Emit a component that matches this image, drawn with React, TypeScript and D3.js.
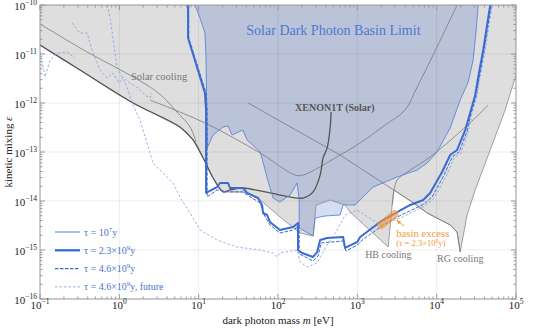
import React from "react";
import * as d3 from "d3";

type Pt = [number, number];

// axis decades
const massDecades = [-1, 0, 1, 2, 3, 4, 5];
const mixingDecades = [-16, -15, -14, -13, -12, -11, -10];

// union of existing bounds (lower edge, left -> right)
const grayRegion: Pt[] = [
  [0.1, 1.53e-11], [0.319, 4.72e-12], [1.49, 1e-12], [5.8, 3.24e-13], [8.5, 1.76e-13],
  [11.4, 7.54e-14], [15.2, 2.95e-14], [20.3, 1.53e-14], [36, 1.53e-14], [56, 1.15e-14],
  [106, 4.72e-15], [190, 2.22e-15], [277, 1.93e-15], [302, 8.29e-15], [454, 1.05e-14],
  [700, 8.29e-15], [810, 5.96e-15], [2450, 1.15e-15], [2750, 8.29e-15], [2900, 1.68e-14],
  [4900, 9.54e-15], [7600, 5.69e-15], [14800, 3.24e-15], [18100, 2.33e-15], [19800, 9.1e-16],
  [24200, 5.18e-15], [30600, 1.68e-14], [47300, 1.1e-13], [73000, 7.2e-13], [1e5, 3.73e-12],
];

const xenonLine: Pt[] = [
  [0.1, 1.53e-11], [0.319, 4.72e-12], [1.49, 1e-12], [5.8, 3.24e-13], [8.5, 1.76e-13],
  [11.4, 7.54e-14], [15.2, 2.95e-14], [20.3, 1.53e-14], [24.9, 1.68e-14], [36, 1.84e-14],
  [79, 1.46e-14], [207, 1.15e-14], [277, 1.53e-14], [340, 3.39e-14], [370, 7.54e-14],
  [416, 1.21e-13], [454, 3.09e-13], [467, 6.55e-13],
];

const solarCoolingA: Pt[] = [
  [0.1, 4.1e-11], [0.319, 1.33e-11], [2.99, 1.68e-12], [5.33, 6.55e-13], [7.8, 3.24e-13], [9.28, 1.6e-13],
];

const solarCoolingB: Pt[] = [
  [2.44, 1.15e-12], [12, 3.91e-13], [59.5, 9.54e-14], [164, 3.39e-14], [207, 3.39e-14],
  [607, 8.68e-14], [1085, 1.53e-13], [2240, 3.56e-13], [4000, 7.2e-13], [5680, 2.12e-12],
  [10100, 1.39e-11], [18100, 1e-10],
];

const longLine: Pt[] = [
  [42, 1e-12], [607, 8.68e-14], [4900, 9.54e-15], [7600, 5.69e-15], [14800, 3.24e-15],
  [18100, 2.33e-15], [19800, 9.1e-16],
];

const hbLine: Pt[] = [
  [2750, 8.29e-15], [2900, 1.68e-14], [3180, 2.68e-14], [4640, 4.29e-14], [8270, 7.91e-14],
  [28800, 4.5e-13], [44600, 9.1e-13],
];

// solar basin limit, tau = 1e7 y (region edge)
const basinRegion: Pt[] = [
  [9.0, 1e-10], [10.4, 5.43e-11], [12, 2.68e-11], [12.4, 7.54e-12], [12.8, 1.21e-13],
  [15.2, 2.22e-13], [20.3, 3.24e-13], [23.5, 3.39e-13], [26.4, 2.22e-13], [36, 2.81e-13],
  [40.8, 1.76e-13], [59.5, 1e-13], [64.8, 6.25e-14], [73, 2.95e-14], [86.6, 1.15e-14],
  [106, 9.54e-15], [142, 1.33e-14], [174, 2.33e-14], [185, 1.05e-14], [185, 2.81e-15],
  [277, 1.93e-15], [294, 4.5e-15], [392, 4.94e-15], [607, 5.18e-15], [662, 8.29e-15],
  [938, 8.29e-15], [1580, 1.93e-14], [3180, 3.09e-14], [5680, 4.29e-14], [7600, 5.96e-14],
  [10100, 1e-13], [14800, 3.09e-13], [19800, 1.15e-12], [25000, 2.68e-12], [28800, 7.54e-12],
  [31500, 3.09e-11], [33400, 1e-10],
];

// tau = 2.3e9 y
const tau23: Pt[] = [
  [7.35, 1e-10], [7.35, 2.12e-11], [12, 1.6e-12], [12.4, 7.2e-13], [12.4, 1.46e-14],
  [17, 1.93e-14], [18.6, 2.33e-14], [23.5, 2.33e-14], [24.9, 1.84e-14], [36, 1.84e-14],
  [40.8, 1.46e-14], [56, 1.15e-14], [63, 8.29e-15], [64.8, 5.69e-15], [73, 5.18e-15],
  [79, 3.73e-15], [106, 2.56e-15], [155, 2.95e-15], [179, 3.56e-15], [179, 1e-15],
  [201, 8.68e-16], [277, 7.2e-16], [311, 9.1e-16], [340, 1.6e-15], [416, 1.76e-15],
  [662, 1.84e-15], [700, 1.1e-15], [1000, 1.46e-15], [1085, 1.84e-15], [1940, 3.73e-15],
  [3180, 5.96e-15], [4640, 8.29e-15], [6770, 1.05e-14], [8270, 1.46e-14], [11700, 3.91e-14],
  [14800, 8.68e-14], [18100, 1.1e-13], [22900, 2.81e-13], [26400, 6.25e-13], [30600, 1.46e-12],
  [33400, 3.39e-12], [38600, 1.21e-11], [47300, 1e-10],
];

// tau = 4.6e9 y
const tau46: Pt[] = [
  [7.5, 1e-10], [7.5, 2.12e-11], [12.4, 1.6e-12], [12.8, 7.2e-13], [12.8, 1.21e-14],
  [17, 1.68e-14], [24.9, 1.53e-14], [36, 1.53e-14], [40.8, 1.33e-14], [59.5, 9.1e-15],
  [67, 5.18e-15], [79, 3.24e-15], [106, 2.22e-15], [155, 2.56e-15], [185, 3.09e-15],
  [185, 8.29e-16], [277, 5.96e-16], [320, 7.54e-16], [350, 1.39e-15], [662, 1.53e-15],
  [720, 9.54e-16], [1000, 1.26e-15], [1150, 1.6e-15], [2050, 3.09e-15], [3370, 4.94e-15],
  [6960, 8.68e-15], [8770, 1.21e-14], [12400, 3.39e-14], [15700, 7.91e-14], [19200, 1e-13],
  [24200, 2.68e-13], [27200, 6.25e-13], [31500, 1.46e-12], [34400, 3.39e-12], [39700, 1.21e-11],
  [48700, 1e-10],
];

// tau = 4.6e9 y, future
const tauFuture: Pt[] = [
  [0.699, 1e-10], [0.763, 5.69e-11], [0.935, 5.43e-12], [1.25, 2.12e-12], [1.49, 9.1e-13],
  [1.82, 4.5e-13], [2.23, 1.53e-13], [2.66, 5.96e-14], [3.99, 3.09e-14], [4.75, 2.33e-14],
  [5.8, 1.21e-14], [7.8, 5.69e-15], [10.4, 2.56e-15], [17, 1.6e-15], [30.5, 1.15e-15],
  [59.5, 1e-15], [86.6, 8.68e-16], [97, 7.2e-16], [106, 8.68e-16], [174, 1e-15],
  [190, 5.69e-16], [233, 4.5e-16], [311, 5.43e-16], [416, 1.26e-15], [556, 2.56e-15],
  [700, 5.18e-15], [1000, 6.55e-15], [1940, 3.24e-15], [3460, 4.5e-15], [7140, 7.91e-15],
  [9300, 1.15e-14], [13200, 3.24e-14], [16600, 7.54e-14], [20400, 9.54e-14], [25000, 2.56e-13],
  [28000, 6.25e-13], [32400, 1.46e-12], [35400, 3.39e-12], [40900, 1.21e-11], [50000, 1e-10],
];
const tauFutureB: Pt[] = [
  [0.253, 4.29e-11], [0.319, 2.68e-11], [0.391, 2.68e-11], [0.427, 1.68e-11], [0.466, 1.05e-11],
  [0.571, 4.72e-12], [0.699, 3.24e-12], [0.833, 4.1e-12], [1.0, 2.56e-12], [1.11, 3.39e-12],
  [1.36, 2.56e-12], [1.72, 2.02e-12], [2.11, 1.46e-12], [2.44, 1.26e-12], [2.58, 1.6e-12],
];
const tauFutureC: Pt[] = [
  [0.1, 1.1e-11], [0.116, 3.39e-12], [0.134, 7.54e-12], [0.164, 1.05e-11], [0.219, 1.1e-11], [0.276, 8.29e-12],
];

const excess: Pt[] = [[2000, 3.2e-15], [2950, 5.4e-15]];
const excessArrow: Pt[] = [[3880, 3.09e-15], [3150, 4.0e-15]];

const BLUE = "#3a6bd3";
const BLUE_THIN = "#5b86dc";
const BLUE_LIGHT = "#7da0e2";
const ORANGE = "#f39a3c";
const FONT = "'Liberation Serif', 'Times New Roman', serif";

export default function App() {
  const x = d3.scaleLog().domain([1e-1, 1e5]).range([40, 516]);
  const y = d3.scaleLog().domain([1e-16, 1e-10]).range([299, 5]);
  const straight = d3.line<Pt>().x(d => x(d[0])).y(d => y(d[1]));
  const smooth = d3.line<Pt>().x(d => x(d[0])).y(d => y(d[1])).curve(d3.curveCatmullRom.alpha(0.5));

  const grayFill = straight([...grayRegion, [1e5, 1e-10], [0.1, 1e-10]]) + "Z";
  const basinFill = straight(basinRegion) + "Z";

  const xMinor: number[] = [];
  massDecades.slice(0, -1).forEach(e => { for (let k = 2; k < 10; k++) xMinor.push(k * 10 ** e); });
  const yMinor: number[] = [];
  mixingDecades.slice(0, -1).forEach(e => { for (let k = 2; k < 10; k++) yMinor.push(k * 10 ** e); });

  const [x0, x1] = x.range();
  const [y1, y0] = y.range();
  const sup = (s: string) => s.replace("-", "\u2212");

  const legend = [
    { pre: "\u03c4 = 10", sup: "7", post: "y", w: 1.1, dash: undefined, c: BLUE_THIN },
    { pre: "\u03c4 = 2.3\u00d710", sup: "9", post: "y", w: 2.3, dash: undefined, c: BLUE },
    { pre: "\u03c4 = 4.6\u00d710", sup: "9", post: "y", w: 1.1, dash: "3.5,1.5", c: BLUE },
    { pre: "\u03c4 = 4.6\u00d710", sup: "9", post: "y, future", w: 0.8, dash: "2.5,2", c: BLUE_LIGHT },
  ];

  return (
    <svg width={533} height={328} style={{ position: "absolute", left: 0, top: 0, fontFamily: FONT }}>
      <defs>
        <clipPath id="plot"><rect x={x0} y={y0} width={x1 - x0} height={y1 - y0} /></clipPath>
        <marker id="arr" viewBox="0 0 10 10" refX="8" refY="5" markerWidth="5" markerHeight="5" orient="auto">
          <path d="M0,1 L10,5 L0,9 z" fill={ORANGE} />
        </marker>
      </defs>
      <rect width={533} height={328} fill="#fff" />
      <g clipPath="url(#plot)">
        <path d={grayFill} fill="#dedede" />
        <path d={basinFill} fill="#3a66c4" fillOpacity={0.22} />
        {massDecades.map(e => (
          <line key={"gx" + e} x1={x(10 ** e)} x2={x(10 ** e)} y1={y0} y2={y1} stroke="#000" strokeOpacity={0.07} />
        ))}
        {mixingDecades.map(e => (
          <line key={"gy" + e} x1={x0} x2={x1} y1={y(10 ** e)} y2={y(10 ** e)} stroke="#000" strokeOpacity={0.07} />
        ))}
        <path d={straight(grayRegion)!} fill="none" stroke="#8a8a8a" strokeWidth={0.8} />
        <path d={smooth(solarCoolingA)!} fill="none" stroke="#7a7a7a" strokeWidth={0.8} />
        <path d={smooth(solarCoolingB)!} fill="none" stroke="#7a7a7a" strokeWidth={0.8} />
        <path d={straight(longLine)!} fill="none" stroke="#7a7a7a" strokeWidth={0.8} />
        <path d={smooth(hbLine)!} fill="none" stroke="#7a7a7a" strokeWidth={0.8} />
        <path d={smooth(xenonLine)!} fill="none" stroke="#555" strokeWidth={1.3} />

        <path d={straight(basinRegion)!} fill="none" stroke={BLUE_THIN} strokeWidth={0.9} />
        {[tauFuture, tauFutureB, tauFutureC].map((s, i) => (
          <path key={"f" + i} d={straight(s)!} fill="none" stroke={BLUE_LIGHT} strokeWidth={0.8} strokeDasharray="2.5,2" />
        ))}
        <path d={straight(tau46)!} fill="none" stroke={BLUE} strokeWidth={1} strokeDasharray="3.5,1.5" />
        <path d={straight(tau23)!} fill="none" stroke={BLUE} strokeWidth={2} strokeLinejoin="round" />

        <path d={straight(excess)!} fill="none" stroke={ORANGE} strokeOpacity={0.65} strokeWidth={8} strokeLinecap="round" />
        <path d={straight(excessArrow)!} fill="none" stroke={ORANGE} strokeWidth={1} markerEnd="url(#arr)" />
      </g>

      <text x={x(500)} y={y(2.4e-11)} textAnchor="middle" fontSize={14} fill="#4d78d6">Solar Dark Photon Basin Limit</text>
      <text x={x(1.4)} y={y(2.95e-12)} fontSize={10.5} fill="#777">Solar cooling</text>
      <text x={x(164)} y={y(6.87e-13)} fontSize={10} fontWeight="bold" fill="#555">XENON1T (Solar)</text>
      <text x={x(1254)} y={y(6.9e-16)} fontSize={10} fill="#777">HB cooling</text>
      <text x={x(10100)} y={y(5.6e-16)} fontSize={10} fill="#777">RG cooling</text>
      <text x={x(3090)} y={y(1.84e-15)} fontSize={10.7} fill={ORANGE}>basin excess</text>
      <text x={x(3090)} y={y(1.18e-15)} fontSize={8.5} fill={ORANGE}>
        ({"\u03c4 = 2.3\u00d710"}<tspan dy={-3} fontSize={6}>9</tspan><tspan dy={3}>y)</tspan>
      </text>

      {/* frame and ticks */}
      <rect x={x0} y={y0} width={x1 - x0} height={y1 - y0} fill="none" stroke="#999" strokeWidth={1} />
      {massDecades.map(e => (
        <g key={"tx" + e}>
          <line x1={x(10 ** e)} x2={x(10 ** e)} y1={y1} y2={y1 - 5} stroke="#999" />
          <line x1={x(10 ** e)} x2={x(10 ** e)} y1={y0} y2={y0 + 5} stroke="#999" />
          <text x={x(10 ** e)} y={309} textAnchor="middle" fontSize={11} fill="#222">
            10<tspan dy={-5} fontSize={7.5}>{sup(String(e))}</tspan>
          </text>
        </g>
      ))}
      {xMinor.map((v, i) => (
        <g key={"mx" + i}>
          <line x1={x(v)} x2={x(v)} y1={y1} y2={y1 - 2.5} stroke="#999" />
          <line x1={x(v)} x2={x(v)} y1={y0} y2={y0 + 2.5} stroke="#999" />
        </g>
      ))}
      {mixingDecades.map(e => (
        <g key={"ty" + e}>
          <line x1={x0} x2={x0 + 5} y1={y(10 ** e)} y2={y(10 ** e)} stroke="#999" />
          <line x1={x1} x2={x1 - 5} y1={y(10 ** e)} y2={y(10 ** e)} stroke="#999" />
          <text x={37} y={y(10 ** e) + 4.5} textAnchor="end" fontSize={11} fill="#222">
            10<tspan dy={-4.5} fontSize={7.5}>{sup(String(e))}</tspan>
          </text>
        </g>
      ))}
      {yMinor.map((v, i) => (
        <g key={"my" + i}>
          <line x1={x0} x2={x0 + 2.5} y1={y(v)} y2={y(v)} stroke="#999" />
          <line x1={x1} x2={x1 - 2.5} y1={y(v)} y2={y(v)} stroke="#999" />
        </g>
      ))}

      <text x={(x0 + x1) / 2} y={324} textAnchor="middle" fontSize={11} fill="#222">
        dark photon mass <tspan fontStyle="italic">m</tspan> [eV]
      </text>
      <text transform={`translate(12,${(y0 + y1) / 2}) rotate(-90)`} textAnchor="middle" fontSize={11} fill="#222">
        kinetic mixing <tspan fontStyle="italic">{"\u03b5"}</tspan>
      </text>

      {legend.map((d, i) => {
        const ly = 232 + i * 18.3;
        return (
          <g key={"lg" + i}>
            <line x1={55} x2={80} y1={ly} y2={ly} stroke={d.c} strokeWidth={d.w} strokeDasharray={d.dash} />
            <text x={84} y={ly + 3.5} fontSize={10} fill="#4a74cf">
              {d.pre}<tspan dy={-4} fontSize={7}>{d.sup}</tspan><tspan dy={4}>{d.post}</tspan>
            </text>
          </g>
        );
      })}
    </svg>
  );
}
